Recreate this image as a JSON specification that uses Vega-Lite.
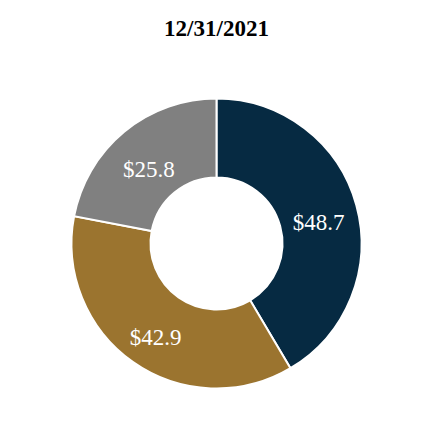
{
  "$schema": "https://vega.github.io/schema/vega-lite/v6.json",
  "autosize": "none",
  "padding": 0,
  "width": 433,
  "height": 487,
  "background": "white",
  "title": {
    "text": "12/31/2021",
    "font": "Liberation Serif",
    "fontSize": 23,
    "fontWeight": "bold",
    "color": "#000000",
    "anchor": "middle",
    "baseline": "alphabetic",
    "offset": -37,
    "dy": 22
  },
  "data": {
    "values": [
      {"category": "A", "value": 48.7, "label": "$48.7", "order": 1},
      {"category": "B", "value": 42.9, "label": "$42.9", "order": 2},
      {"category": "C", "value": 25.8, "label": "$25.8", "order": 3}
    ]
  },
  "encoding": {
    "theta": {"field": "value", "type": "quantitative", "stack": true},
    "order": {"field": "order", "type": "quantitative"}
  },
  "layer": [
    {
      "mark": {"type": "arc", "outerRadius": 145, "innerRadius": 66, "stroke": "white", "strokeWidth": 2},
      "encoding": {
        "color": {
          "field": "category",
          "type": "nominal",
          "scale": {"domain": ["A", "B", "C"], "range": ["#062a42", "#9b742f", "#808080"]},
          "legend": null
        }
      }
    },
    {
      "mark": {"type": "text", "radius": 106, "dy": 8, "font": "Liberation Serif", "fontSize": 23, "color": "white", "align": "center", "baseline": "middle"},
      "encoding": {
        "text": {"field": "label", "type": "nominal"}
      }
    }
  ],
  "config": {"view": {"stroke": null}}
}
